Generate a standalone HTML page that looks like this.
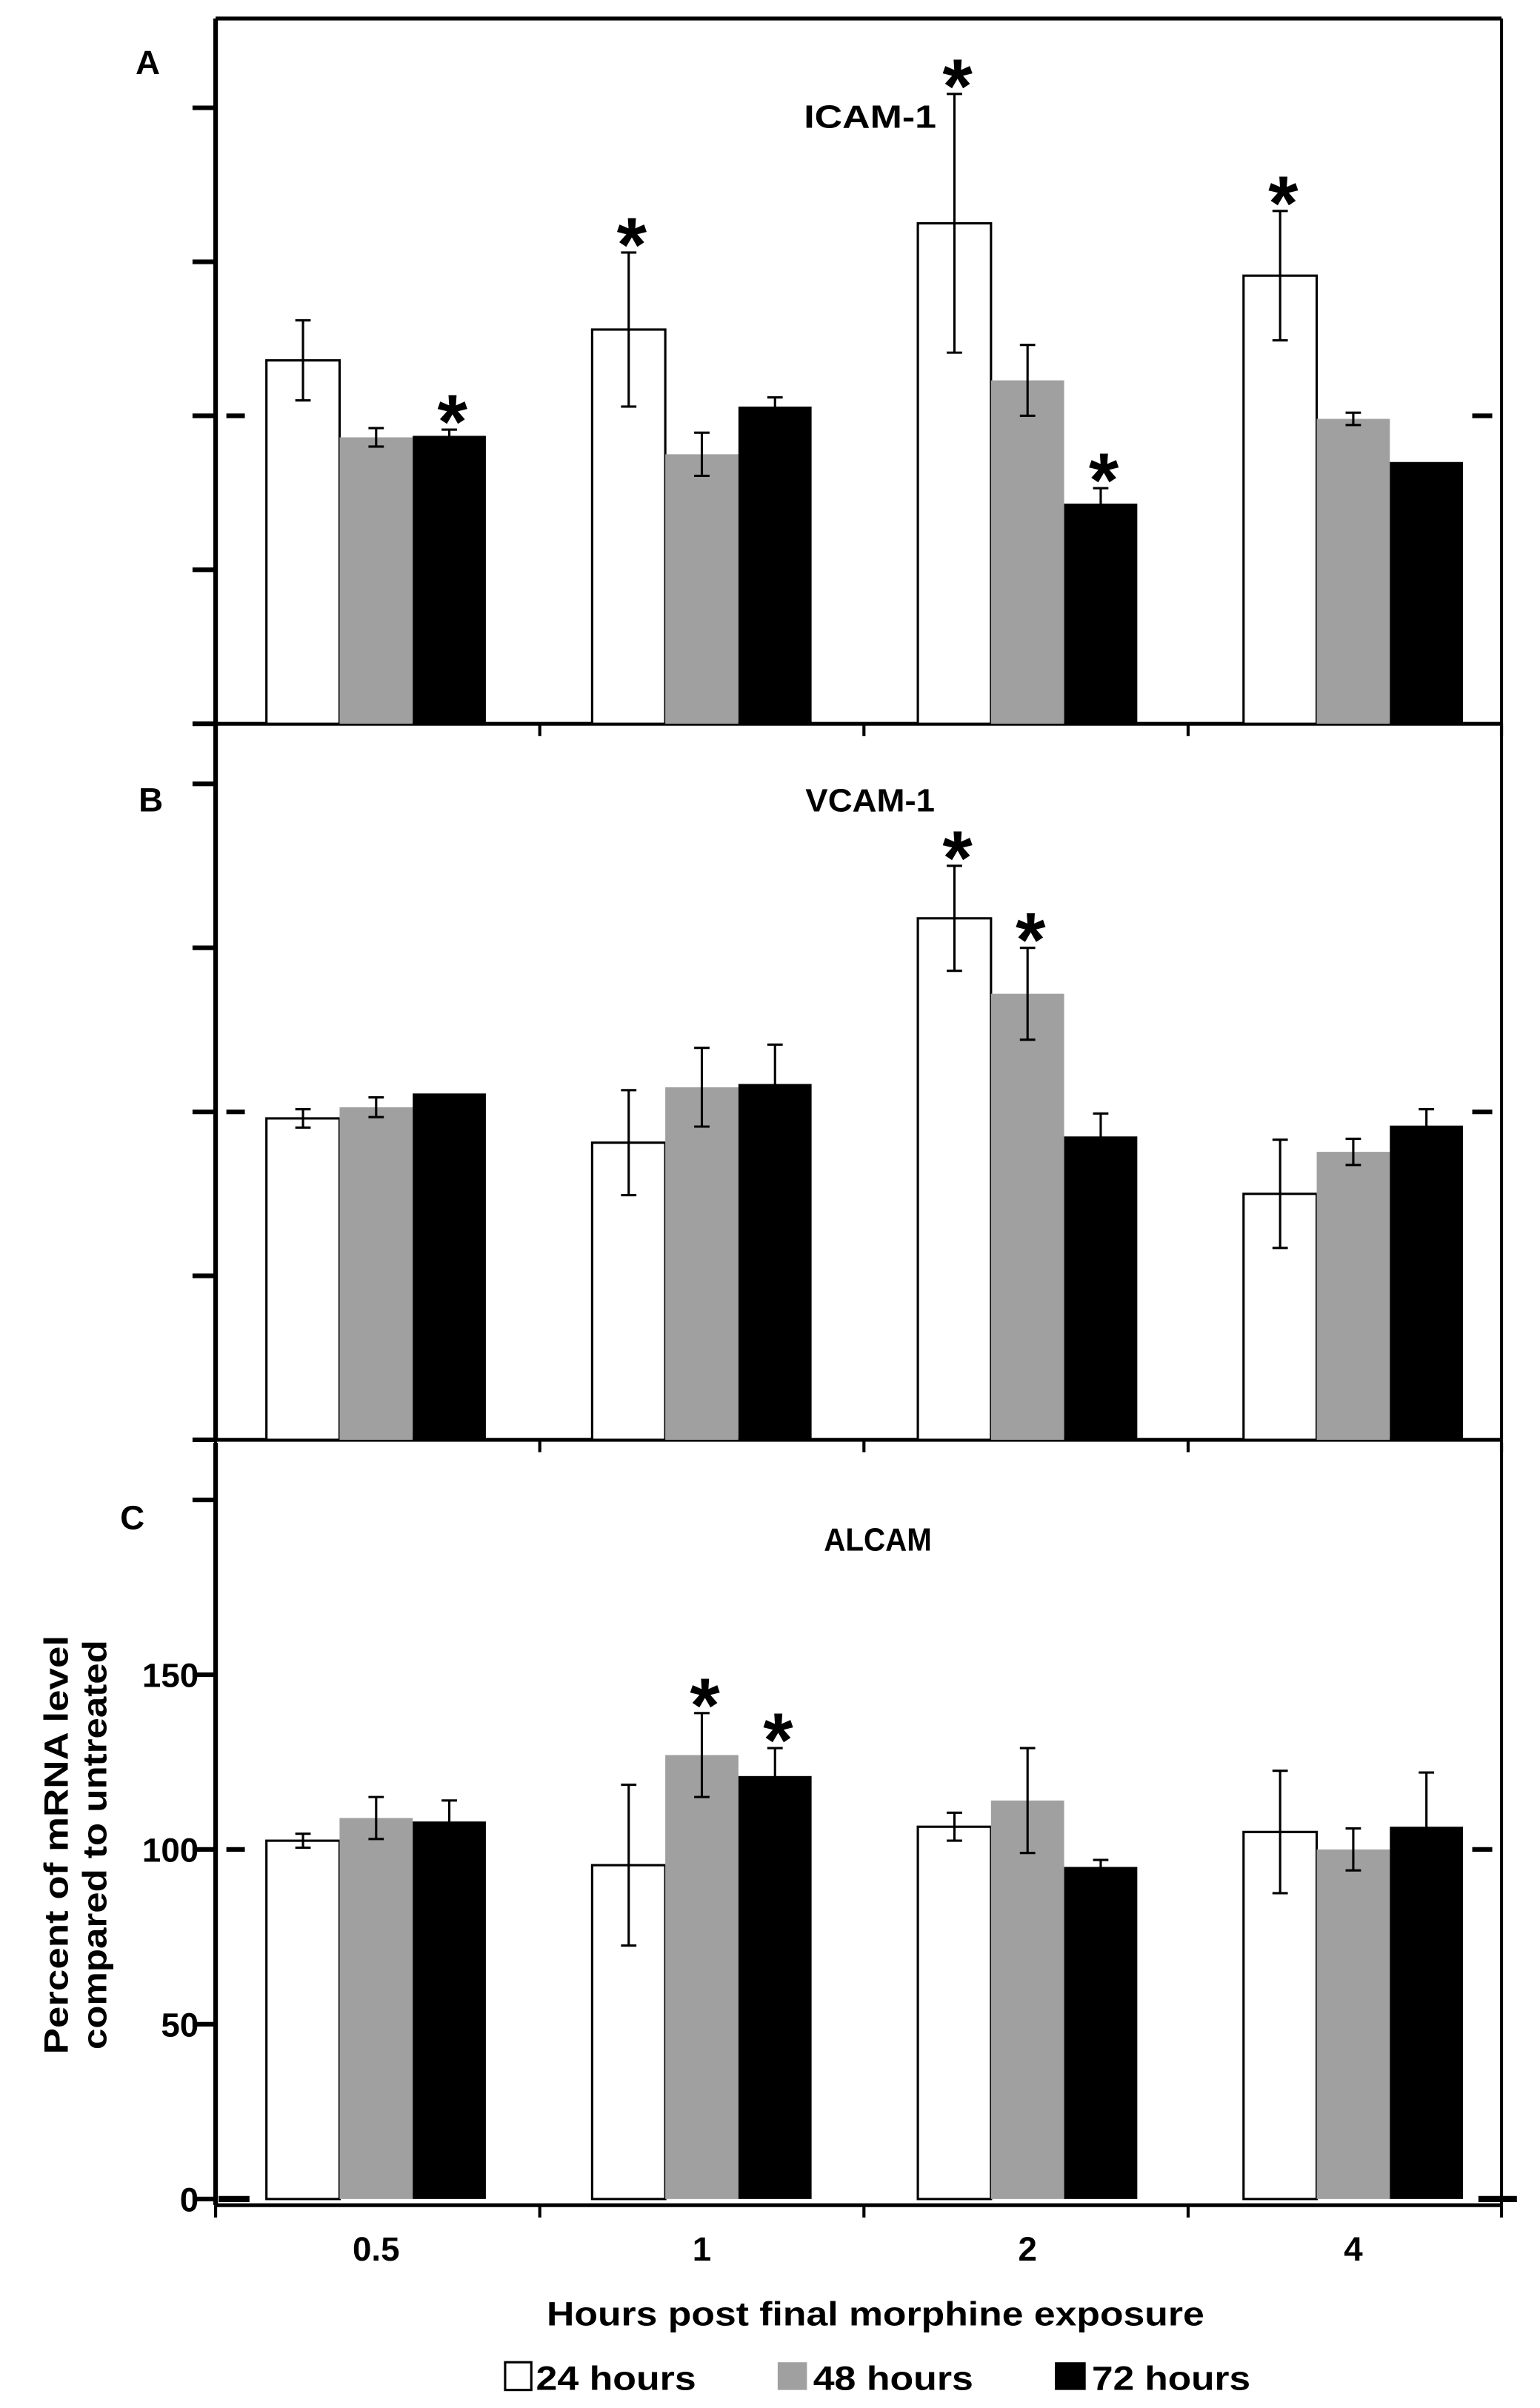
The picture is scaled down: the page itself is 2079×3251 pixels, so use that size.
<!DOCTYPE html>
<html><head><meta charset="utf-8"><style>
html,body{margin:0;padding:0;background:#fff}
svg{display:block}
text{font-family:"Liberation Sans Narrow","Liberation Sans",sans-serif;font-weight:bold;fill:#000}
</style></head><body>
<svg id="chart" width="2079" height="3251" viewBox="0 0 1000 1563.7" xmlns="http://www.w3.org/2000/svg">
<g id="frame"></g>
<g id="bars"></g>
<text x="88" y="48" font-size="22">A</text>
<text x="90" y="527" font-size="22">B</text>
<text x="78" y="993" font-size="22">C</text>
<text x="522" y="83" font-size="21" textLength="86" lengthAdjust="spacingAndGlyphs">ICAM-1</text>
<text x="523" y="527" font-size="21" textLength="84" lengthAdjust="spacingAndGlyphs">VCAM-1</text>
<text x="535" y="1007" font-size="21" textLength="70" lengthAdjust="spacingAndGlyphs">ALCAM</text>
<g transform="translate(48,1198) rotate(-90)">
<text x="-136" y="-4" font-size="22" textLength="272" lengthAdjust="spacingAndGlyphs" style="font-family:'Liberation Sans',sans-serif">Percent of mRNA level</text>
<text x="-133" y="21" font-size="22" textLength="266" lengthAdjust="spacingAndGlyphs" style="font-family:'Liberation Sans',sans-serif">compared to untreated</text>
</g>
<text x="355" y="1510" font-size="22" textLength="427" lengthAdjust="spacingAndGlyphs">Hours post final morphine exposure</text>
<g>
<rect x="328" y="1534" width="17" height="18" fill="#fff" stroke="#000" stroke-width="1.5"/>
<text x="348" y="1552" font-size="22" textLength="104" lengthAdjust="spacingAndGlyphs">24 hours</text>
<rect x="505" y="1534" width="19" height="18" fill="#a0a0a0"/>
<text x="528" y="1552" font-size="22" textLength="104" lengthAdjust="spacingAndGlyphs">48 hours</text>
<rect x="685" y="1534" width="20" height="18" fill="#000"/>
<text x="709" y="1552" font-size="22" textLength="103" lengthAdjust="spacingAndGlyphs">72 hours</text>
</g>
</svg>
<script>
const categories = ["0.5","1","2","4"];
const seriesNames = ["24 hours","48 hours","72 hours"];
const icamValues = [[118,128,162.5,145.5],[93,87.5,111.5,99],[93.5,103,71.5,85]];
const icamErrors = [[13,25,42,21],[3,7,11.5,2],[2,3,5,0]];
const icamStars = [[0,1,1,1],[0,0,0,0],[1,0,1,0]];
const vcamValues = [[98,90.6,159,75],[101.4,107.5,136,87.8],[105.6,108.5,92.5,95.8]];
const vcamErrors = [[2.8,16,16,16.5],[3,12,14,4],[0,12,7,5]];
const vcamStars = [[0,0,1,0],[0,0,1,0],[0,0,0,0]];
const alcamValues = [[102.5,95.5,106.5,105],[109,127,114,100],[108,121,95,106.5]];
const alcamErrors = [[2,23,4,17.5],[6,12,15,6],[6,8,2,15.5]];
const alcamStars = [[0,0,0,0],[0,1,0,0],[0,1,0,0]];
const yTickLabels = ["0","50","100","150"];
const yTickValues = [0,50,100,150,200];

const NS="http://www.w3.org/2000/svg";
const fills=["#fff","#a0a0a0","#000"];
const panels=[
 {name:"icam",top:12,y0:470,ppu:2.0,vals:icamValues,errs:icamErrors,stars:icamStars,labels:false},
 {name:"vcam",top:470,y0:935,ppu:2.13,vals:vcamValues,errs:vcamErrors,stars:vcamStars,labels:false},
 {name:"alcam",top:937,y0:1428,ppu:2.27,vals:alcamValues,errs:alcamErrors,stars:alcamStars,labels:true}
];
const L=140,R=975,groupW=211.5,barW=47.5,firstBar=173;
function xBar(ci,si){return firstBar+ci*groupW+si*barW;}
function el(tag,attrs,parent){const e=document.createElementNS(NS,tag);for(const k in attrs)e.setAttribute(k,attrs[k]);parent.appendChild(e);return e;}
const frame=document.getElementById("frame"),bars=document.getElementById("bars");
panels.forEach((p,pi)=>{
 const y=v=>p.y0-v*p.ppu;
 const bottom=pi===2?1432:p.y0;
 let ax=el("line",{x1:L,y1:p.top,x2:L,y2:bottom,stroke:"#000","stroke-width":3},frame);
 
 
 let rb=el("line",{x1:R,y1:p.top,x2:R,y2:bottom,stroke:"#000","stroke-width":2},frame);
 
 
 if(pi===0){let tb=el("line",{x1:L,y1:p.top,x2:R,y2:p.top,stroke:"#000","stroke-width":2.5},frame);
  
  }
 let bl=el("line",{x1:L,y1:bottom,x2:R,y2:bottom,stroke:"#000","stroke-width":2.5},frame);
 
 
 [0,1,2,3,4].forEach(k=>{const xx=k===4?R:L+k*210.5;
  let t=el("line",{x1:xx,y1:bottom,x2:xx,y2:bottom+8,stroke:"#000","stroke-width":2},frame);
  
  });
 yTickValues.forEach((v,k)=>{const yy=y(v);
  let t=el("line",{x1:L-15,y1:yy,x2:L,y2:yy,stroke:"#000","stroke-width":3},frame);
  
  
  if(p.labels&&k<yTickLabels.length){
   let tx=el("text",{x:L-11,y:yy+8,"font-size":22,"text-anchor":"end"},frame);tx.textContent=yTickLabels[k];
   
   }
 });
 [[L+7,L+19],[R-19,R-6]].forEach(d=>{
  let m=el("line",{x1:d[0],y1:y(100),x2:d[1],y2:y(100),stroke:"#000","stroke-width":3},frame);
  
  });
 if(pi===2){[[L+2,L+22],[R-15,R+10]].forEach(d=>{
  let m=el("line",{x1:d[0],y1:y(0),x2:d[1],y2:y(0),stroke:"#000","stroke-width":4},frame);
  
  });}
 p.vals.forEach((series,si)=>{series.forEach((v,ci)=>{
  const x=xBar(ci,si);
  let b=el("rect",{x:x,y:y(v),width:barW,height:v*p.ppu,fill:fills[si],stroke:si===0?"#000":"none","stroke-width":1.5},bars);
  
  
  const e=p.errs[si][ci];const cx=x+barW/2;
  if(e>0){
   const g=el("g",{stroke:"#000","stroke-width":1.5},bars);
   
   
   el("line",{x1:cx,y1:y(v+e),x2:cx,y2:y(v-e)},g);
   el("line",{x1:cx-5,y1:y(v+e),x2:cx+5,y2:y(v+e)},g);
   el("line",{x1:cx-5,y1:y(v-e),x2:cx+5,y2:y(v-e)},g);
  }
  if(p.stars[si][ci]){
   let s=el("text",{x:cx+2,y:y(v+e)+12,"font-size":50,"text-anchor":"middle"},bars);
   s.textContent="*";
   
   
  }
 });});
});
categories.forEach((c,ci)=>{
 let t=el("text",{x:xBar(ci,1)+barW/2,y:1468,"font-size":22,"text-anchor":"middle"},frame);
 t.textContent=c;
 
 
});
</script>
</body></html>
